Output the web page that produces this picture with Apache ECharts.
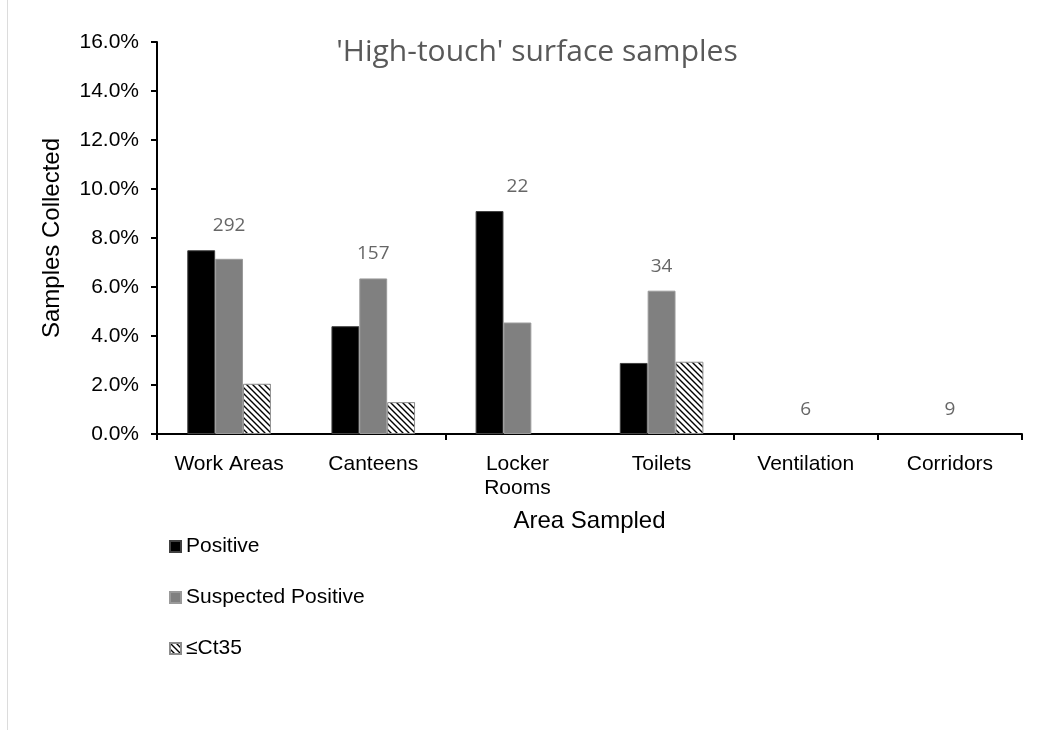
<!DOCTYPE html>
<html>
<head>
<meta charset="utf-8">
<script src="https://cdn.jsdelivr.net/npm/echarts@6/dist/echarts.min.js"></script>
<style>html,body{margin:0;padding:0;background:#fff;}#c{width:1049px;height:732px;}</style>
</head>
<body>
<div id="c"></div>
<script>
const categories = ['Work Areas', 'Canteens', 'Locker\nRooms', 'Toilets', 'Ventilation', 'Corridors'];
const positive = [7.5, 4.4, 9.1, 2.9, 0, 0];
const suspected = [7.15, 6.35, 4.55, 5.85, 0, 0];
const ct35 = [2.05, 1.3, 0, 2.95, 0, 0];
const sampleCounts = [292, 157, 22, 34, 6, 9];
const yTicks = [0, 2, 4, 6, 8, 10, 12, 14, 16];

function hatch() {
  const c = document.createElement('canvas');
  c.width = 6; c.height = 6;
  const g = c.getContext('2d');
  g.fillStyle = '#fff'; g.fillRect(0, 0, 6, 6);
  g.strokeStyle = '#000'; g.lineWidth = 1.4;
  g.beginPath();
  g.moveTo(0, 0); g.lineTo(6, 6);
  g.moveTo(-3, 3); g.lineTo(3, 9);
  g.moveTo(3, -3); g.lineTo(9, 3);
  g.stroke();
  return c;
}
const hatchColor = { image: hatch(), repeat: 'repeat' };
const noZero = arr => arr.map(v => (v === 0 ? '-' : v));

const labelY = categories.map((_, i) => [i, Math.max(positive[i], suspected[i], ct35[i]) + 1.0]);

const chart = echarts.init(document.getElementById('c'), null, { renderer: 'canvas' });
chart.setOption({
  animation: false,
  backgroundColor: '#fff',
  title: {
    text: "'High-touch' surface samples",
    left: 532, top: 32, textAlign: 'center',
    textStyle: { fontFamily: 'Open Sans', fontSize: 30, fontWeight: 'normal', color: '#595959' }
  },
  graphic: [{ type: 'line', shape: { x1: 7.5, y1: 0, x2: 7.5, y2: 730 }, style: { stroke: '#dcdcdc', lineWidth: 1 } }],
  legend: {
    orient: 'vertical', left: 164, top: 531, icon: 'rect',
    itemWidth: 11, itemHeight: 11, itemGap: 30,
    data: ['Positive', 'Suspected Positive', '≤Ct35'],
    textStyle: { fontFamily: 'Liberation Sans', fontSize: 21, color: '#000' }
  },
  grid: { left: 157, right: 27, top: 42, bottom: 298 },
  xAxis: {
    type: 'category', data: categories,
    name: 'Area Sampled', nameLocation: 'middle', nameGap: 75,
    nameTextStyle: { fontFamily: 'Liberation Sans', fontSize: 24, color: '#000' },
    axisLine: { lineStyle: { color: '#000', width: 2 } },
    axisTick: { show: true, interval: 1, length: 6, lineStyle: { color: '#000', width: 2 } },
    axisLabel: { fontFamily: 'Liberation Sans', fontSize: 21, color: '#000', margin: 18, lineHeight: 24, interval: 0 }
  },
  yAxis: {
    type: 'value', min: 0, max: 16, interval: 2,
    name: 'Samples Collected', nameLocation: 'middle', nameGap: 93,
    nameTextStyle: { fontFamily: 'Liberation Sans', fontSize: 24, color: '#000' },
    axisLine: { show: true, lineStyle: { color: '#000', width: 2 } },
    axisTick: { show: true, length: 6, lineStyle: { color: '#000', width: 2 } },
    splitLine: { show: false },
    axisLabel: { fontFamily: 'Liberation Sans', fontSize: 21, color: '#000', margin: 18,
      formatter: v => yTicks.includes(v) ? v.toFixed(1) + '%' : '' }
  },
  series: [
    { name: 'Positive', type: 'bar', data: noZero(positive), barGap: '0%', barCategoryGap: '42%',
      itemStyle: { color: '#000', borderColor: '#404040', borderWidth: 1 } },
    { name: 'Suspected Positive', type: 'bar', data: noZero(suspected),
      itemStyle: { color: '#808080', borderColor: '#9a9a9a', borderWidth: 1 } },
    { name: '≤Ct35', type: 'bar', data: noZero(ct35),
      itemStyle: { color: hatchColor, borderColor: '#8c8c8c', borderWidth: 1 } },
    { name: 'counts', type: 'scatter', data: labelY, symbolSize: 0, silent: true,
      label: { show: true, position: 'inside', formatter: p => String(sampleCounts[p.dataIndex]),
        fontFamily: 'Open Sans', fontSize: 19, color: '#404040' } }
  ]
});
</script>
</body>
</html>
